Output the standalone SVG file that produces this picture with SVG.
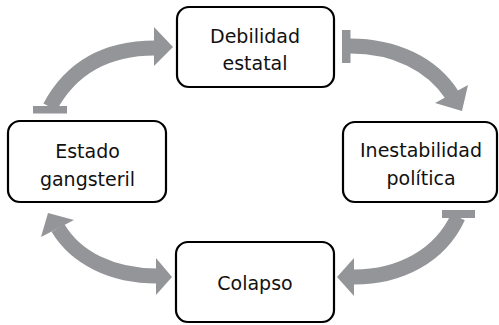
<svg xmlns="http://www.w3.org/2000/svg" width="499" height="325" viewBox="0 0 499 325">
<style>
.box{fill:#fff;stroke:#000;stroke-width:2.2}
.lbl{font-family:"DejaVu Sans",Verdana,sans-serif;font-size:19px;fill:#111;text-anchor:middle}
.shaft{fill:none;stroke:#939598;stroke-width:15}
.head{fill:#939598}
</style>
<rect width="499" height="325" fill="#fff"/>
<g id="connectors">
  <!-- Estado -> Debilidad -->
  <path class="shaft" d="M50,107 C72,66 108,48 155,48"/>
  <rect class="head" x="33" y="106" width="34" height="7.5"/>
  <polygon class="head" points="154,27 173,47 154,66"/>
  <!-- Debilidad -> Inestabilidad -->
  <path class="shaft" d="M350,46 C395,46 432,64 452,95"/>
  <rect class="head" x="342" y="30" width="8.5" height="33"/>
  <polygon class="head" points="435,103 468,85 462,111"/>
  <!-- Inestabilidad -> Colapso -->
  <path class="shaft" d="M458,217 C440,256 400,277 354,277"/>
  <rect class="head" x="442" y="210" width="33" height="8"/>
  <polygon class="head" points="354,258 337,277 354,296"/>
  <!-- Colapso <-> Estado -->
  <path class="shaft" d="M58,228 C76,258 112,276 157,276"/>
  <polygon class="head" points="41,237 48,213 74,220"/>
  <polygon class="head" points="156,258 172,277 156,295"/>
</g>
<g id="debilidad">
  <rect class="box" x="177" y="7" width="157" height="80" rx="12"/>
  <text class="lbl" x="255" y="43">Debilidad</text>
  <text class="lbl" x="255" y="70">estatal</text>
</g>
<g id="inestabilidad">
  <rect class="box" x="343" y="122" width="154" height="80" rx="12"/>
  <text class="lbl" x="421" y="157">Inestabilidad</text>
  <text class="lbl" x="421" y="185">política</text>
</g>
<g id="estado">
  <rect class="box" x="8" y="121" width="158" height="81" rx="12"/>
  <text class="lbl" x="87.5" y="158">Estado</text>
  <text class="lbl" x="87.5" y="186">gangsteril</text>
</g>
<g id="colapso">
  <rect class="box" x="176" y="242" width="158" height="80" rx="12"/>
  <text class="lbl" x="255" y="290">Colapso</text>
</g>
</svg>
